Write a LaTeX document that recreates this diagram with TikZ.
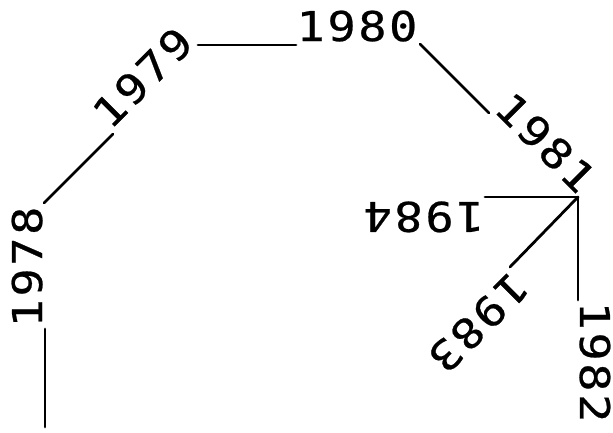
\documentclass[tikz,border=0pt]{standalone}
\usepackage{fontspec}
\newfontfamily\plotfont[FakeStretch=1.15,LetterSpace=6,FakeBold=0.6]{DejaVu Sans Mono}
\begin{document}
\begin{tikzpicture}[x=1pt,y=-1pt,
  yr/.style={font=\plotfont\fontsize{41}{41}\selectfont, anchor=base, inner sep=0pt},
  ln/.style={line width=2.8pt, line cap=round}]
\useasboundingbox (0,0) rectangle (613,432);
% path points
\coordinate (s0) at (45,427);
\coordinate (l1) at (45,329);
\coordinate (s1) at (44,203);
\coordinate (l2) at (113,134);
\coordinate (s2) at (198,45);
\coordinate (l3) at (296,45);
\coordinate (s3) at (420,44);
\coordinate (l4) at (489,113);
\coordinate (v) at (578,197);
\coordinate (l5) at (578,300);
\coordinate (l6) at (510,267);
\coordinate (l7) at (485,197);
% labels
\node[yr, rotate=90] (t1978) at (42,267) {1978};
\node[yr, rotate=45] (t1979) at (153,88) {1979};
\node[yr] (t1980) at (357,41) {1980};
\node[yr, rotate=-45] (t1981) at (535,153) {1981};
\node[yr, rotate=-90] (t1982) at (580,362) {1982};
\node[yr, rotate=225] (t1983) at (468,312) {1983};
\node[yr, rotate=180] (t1984) at (424,202) {1984};
% connectors
\draw[ln] (s0) -- (l1);
\draw[ln] (s1) -- (l2);
\draw[ln] (s2) -- (l3);
\draw[ln] (s3) -- (l4);
\draw[ln] (v) -- (l5);
\draw[ln] (v) -- (l6);
\draw[ln] (v) -- (l7);
\end{tikzpicture}
\end{document}
